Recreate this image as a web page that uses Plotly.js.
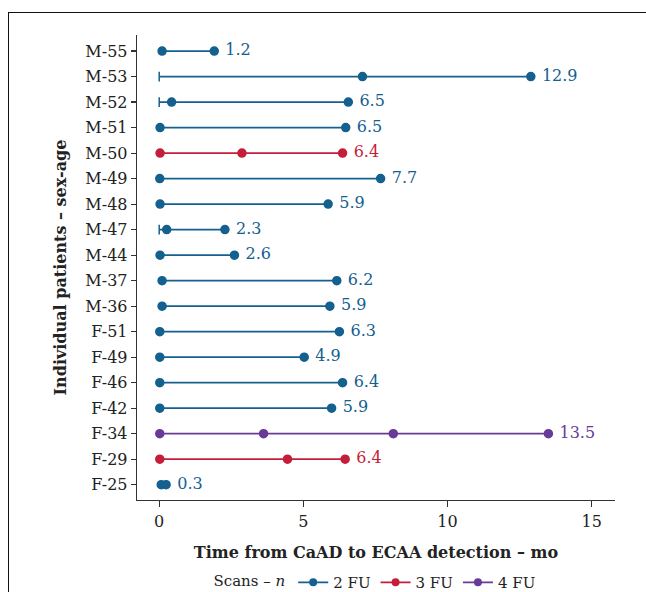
<!DOCTYPE html>
<html>
<head>
<meta charset="utf-8">
<script src="https://cdn.plot.ly/plotly-3.0.1.min.js"></script>
<style>
  html, body { margin: 0; padding: 0; background: #fff; }
  #wrap { position: relative; width: 646px; height: 592px; overflow: hidden; }
  #frame { position: absolute; left: 8px; top: 12px; width: 700px; height: 700px;
           border-left: 1.5px solid #111; border-top: 1.5px solid #111; pointer-events: none; }
  #chart { position: absolute; left: 0; top: 0; width: 646px; height: 592px; }
</style>
</head>
<body>
<div id="wrap">
  <div id="chart"></div>
  <div id="frame"></div>
</div>
<script>
// ---- data ----
const patients = ['M-55','M-53','M-52','M-51','M-50','M-49','M-48','M-47','M-44',
                  'M-37','M-36','F-51','F-49','F-46','F-42','F-34','F-29','F-25'];
// scan times (months from CaAD) for each patient
const scanTimes = [
  [0.10, 1.91],
  [7.05, 12.89],
  [0.43, 6.56],
  [0.03, 6.47],
  [0.03, 2.87, 6.36],
  [0.02, 7.68],
  [0.03, 5.86],
  [0.26, 2.28],
  [0.03, 2.61],
  [0.10, 6.16],
  [0.10, 5.92],
  [0.02, 6.25],
  [0.02, 5.03],
  [0.02, 6.36],
  [0.02, 5.98],
  [0.02, 3.62, 8.12, 13.50],
  [0.02, 4.45, 6.45],
  [0.07, 0.24]
];
// patients whose line starts at CaAD (time 0) with a small tick
const baselineTick = [false,true,true,false,false,false,false,true,false,
                      false,false,false,false,false,false,false,false,false];
const endLabels = ['1.2','12.9','6.5','6.5','6.4','7.7','5.9','2.3','2.6',
                   '6.2','5.9','6.3','4.9','6.4','5.9','13.5','6.4','0.3'];
const groupNames = ['2 FU','3 FU','4 FU'];
const groupColors = ['#14608f','#c41e3a','#6a3a98'];
const xTicks = [0, 5, 10, 15];

// ---- traces ----
const FONT = 'DejaVu Serif, serif';
const traces = [];
patients.forEach((p, i) => {
  const t = scanTimes[i];
  const g = t.length - 2;
  const color = groupColors[g];
  const xs = baselineTick[i] ? [0].concat(t) : t.slice();
  const sizes = xs.map((v, k) => (baselineTick[i] && k === 0) ? 7 : 8);
  const symbols = xs.map((v, k) => (baselineTick[i] && k === 0) ? 'line-ns' : 'circle');
  const texts = xs.map((v, k) => k === xs.length - 1 ? ' ' + endLabels[i] : '');
  traces.push({
    type: 'scatter',
    mode: 'lines+markers+text',
    x: xs,
    y: xs.map(() => p),
    text: texts,
    textposition: 'middle right',
    textfont: { family: FONT, size: 16, color: color },
    line: { color: color, width: 1.8 },
    marker: { color: color, size: sizes, symbol: symbols, opacity: 1,
              line: { color: color, width: 1.5 } },
    name: groupNames[g],
    legendgroup: groupNames[g],
    showlegend: false,
    hoverinfo: 'x+y',
    cliponaxis: false
  });
});
// legend entries
groupNames.forEach((n, g) => {
  traces.push({
    type: 'scatter', mode: 'lines+markers',
    x: [null], y: [null],
    name: n, legendgroup: n,
    line: { color: groupColors[g], width: 1.8 },
    marker: { color: groupColors[g], size: 8, opacity: 1 },
    showlegend: true
  });
});

const layout = {
  width: 646, height: 592,
  margin: { l: 137, r: 31, t: 35, b: 92, autoexpand: false },
  paper_bgcolor: 'rgba(0,0,0,0)',
  plot_bgcolor: 'rgba(0,0,0,0)',
  font: { family: FONT, size: 15, color: '#222' },
  showlegend: true,
  legend: {
    orientation: 'h', x: 0.5, xanchor: 'center', y: -0.142, yanchor: 'top',
    title: { text: 'Scans – <i>n</i>', side: 'left', font: { family: FONT, size: 15, color: '#222' } },
    font: { family: FONT, size: 15, color: '#222' },
    itemwidth: 30
  },
  xaxis: {
    range: [-0.77, 15.81],
    tickvals: xTicks,
    ticktext: xTicks.map(String),
    ticks: 'outside', ticklen: 6, tickwidth: 1.2, tickcolor: '#333',
    showline: true, linecolor: '#333', linewidth: 1.3,
    showgrid: false, zeroline: false,
    tickfont: { family: FONT, size: 16, color: '#222' },
    title: { text: '<b>Time from CaAD to ECAA detection – mo</b>', standoff: 17,
             font: { family: FONT, size: 16, color: '#222' } },
    automargin: false
  },
  yaxis: {
    type: 'category',
    categoryorder: 'array', categoryarray: patients,
    range: [17.6, -0.63],
    ticks: 'outside', ticklen: 5, tickwidth: 1.2, tickcolor: '#333',
    showline: true, linecolor: '#333', linewidth: 1.3,
    showgrid: false, zeroline: false,
    tickfont: { family: FONT, size: 16, color: '#222' },
    title: { text: '<b>Individual patients – sex-age</b>', standoff: 14,
             font: { family: FONT, size: 16, color: '#222' } },
    automargin: false
  }
};

Plotly.newPlot('chart', traces, layout, { displayModeBar: false, staticPlot: true });
</script>
</body>
</html>
